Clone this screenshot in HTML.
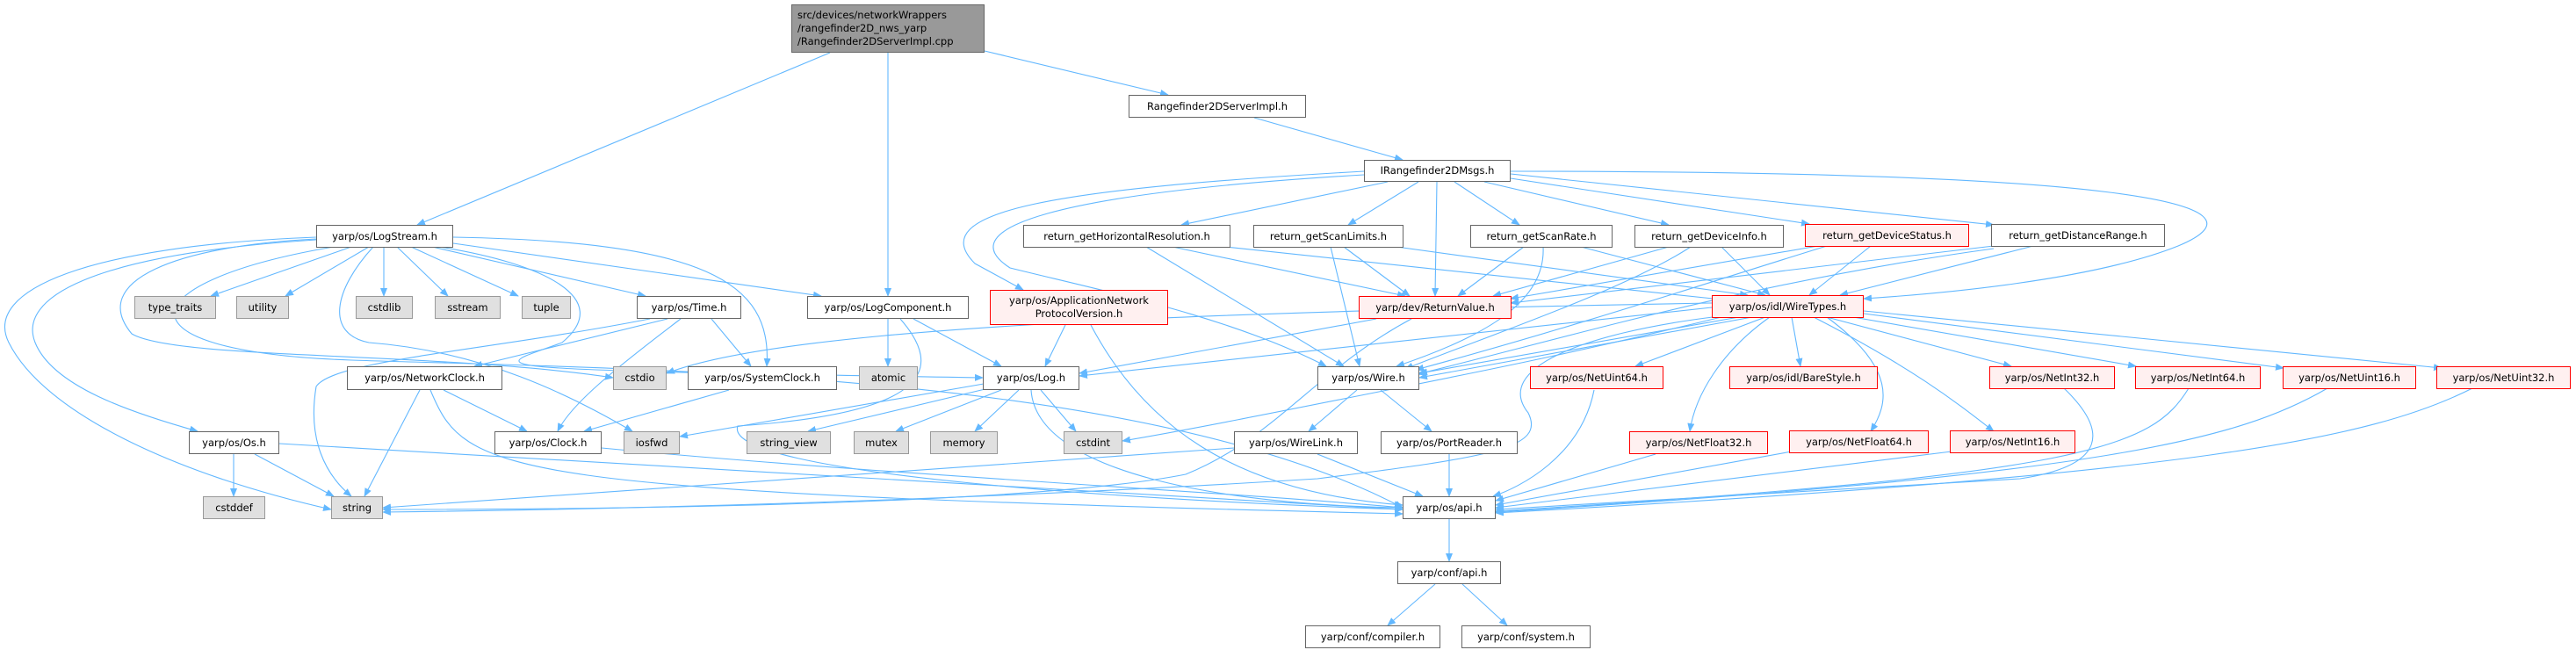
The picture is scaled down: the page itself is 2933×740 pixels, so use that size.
<!DOCTYPE html>
<html><head><meta charset="utf-8"><style>
html,body{margin:0;padding:0;background:#fff;}
body{width:2933px;height:740px;position:relative;overflow:hidden;font-family:"DejaVu Sans","Liberation Sans",sans-serif;}
.n{position:absolute;box-sizing:border-box;border:1px solid #666;background:#fff;font-size:11.5px;color:#000;display:flex;align-items:center;justify-content:center;text-align:center;white-space:nowrap;line-height:15px;}
.g{background:#e0e0e0;border-color:#999;}
.r{background:#fff0f0;border-color:#f00;}
.root{background:#999;border-color:#666;}
svg{position:absolute;left:0;top:0;}
</style></head><body>
<svg width="2933" height="740" viewBox="0 0 2933 740">
<defs><marker id="a" markerWidth="10" markerHeight="8" refX="9" refY="4" orient="auto" markerUnits="userSpaceOnUse"><path d="M0,0 L10,4 L0,8 z" fill="#63b8ff"/></marker></defs>
<g fill="none" stroke="#63b8ff" stroke-width="1.1" marker-end="url(#a)">
<path d="M945,60 L475,256"/>
<path d="M1011,60 L1011,337"/>
<path d="M1121,58 L1330,108"/>
<path d="M1428,134 L1597,182"/>
<path d="M1580,207 L1345,256"/>
<path d="M1615,207 L1535,256"/>
<path d="M1636,207 L1634,337"/>
<path d="M1656,207 L1730,256"/>
<path d="M1690,207 L1900,256"/>
<path d="M1720,203 L2060,255"/>
<path d="M1720,198 L2270,256"/>
<path d="M1720,195 C2400,195 2600,230 2480,280 C2380,320 2200,335 2122,340"/>
<path d="M1553,195 C1200,215 1050,240 1110,300 L1165,330"/>
<path d="M1553,199 C1200,220 1080,260 1150,305 C1250,330 1400,360 1510,417"/>
<path d="M1335,281 L1600,337"/>
<path d="M1305,281 L1530,417"/>
<path d="M1395,281 L1960,341"/>
<path d="M1530,281 L1605,337"/>
<path d="M1515,281 L1548,417"/>
<path d="M1590,281 L1990,336"/>
<path d="M1735,281 L1660,337"/>
<path d="M1757,281 C1760,340 1700,380 1590,417"/>
<path d="M1800,281 L2010,336"/>
<path d="M1900,281 L1700,337"/>
<path d="M1925,281 C1850,330 1700,380 1600,420"/>
<path d="M1960,281 L2015,336"/>
<path d="M2070,280 L1720,340"/>
<path d="M2130,280 L2060,336"/>
<path d="M2080,280 C1950,320 1800,370 1612,421"/>
<path d="M2270,280 L1720,345"/>
<path d="M2315,280 L2095,336"/>
<path d="M2270,283 C2000,320 1800,380 1614,426"/>
<path d="M1213,370 L1190,417"/>
<path d="M1242,370 C1300,480 1400,560 1597,575"/>
<path d="M1607,363 C1500,420 1450,500 1350,540 C1200,570 800,580 436,580"/>
<path d="M1567,363 L1229,425"/>
<path d="M1949,350 L1229,428"/>
<path d="M1949,345 C1400,355 900,370 759,425"/>
<path d="M1980,361 L1616,425"/>
<path d="M1995,361 L1616,430"/>
<path d="M2010,361 L1862,417"/>
<path d="M2040,361 L2050,417"/>
<path d="M2015,361 C1960,400 1930,450 1924,491"/>
<path d="M2080,361 C2160,420 2150,460 2130,491"/>
<path d="M2065,361 C2180,420 2230,460 2270,491"/>
<path d="M2080,361 L2290,417"/>
<path d="M2110,361 L2432,417"/>
<path d="M2122,357 L2600,419"/>
<path d="M2122,354 L2780,419"/>
<path d="M1960,361 C1800,400 1700,420 1600,440 C1450,470 1350,490 1278,502"/>
<path d="M1950,361 C1800,380 1700,420 1740,470 C1760,510 1700,520 1500,545 C1100,570 700,580 436,583"/>
<path d="M1130,441 L920,491"/>
<path d="M1140,444 L1020,491"/>
<path d="M1160,444 L1110,491"/>
<path d="M1185,444 L1225,491"/>
<path d="M1174,444 C1180,540 1400,575 1597,578"/>
<path d="M1120,437 L774,497"/>
<path d="M1040,363 L1140,417"/>
<path d="M1011,363 L1011,417"/>
<path d="M1025,363 C1075,420 1060,470 840,485 C820,540 1300,570 1597,580"/>
<path d="M400,281 L240,337"/>
<path d="M420,281 L325,337"/>
<path d="M437,281 L437,337"/>
<path d="M452,281 L510,337"/>
<path d="M468,281 L590,337"/>
<path d="M492,281 L735,337"/>
<path d="M516,277 L935,337"/>
<path d="M516,270 C800,275 880,320 873,417"/>
<path d="M500,281 C620,300 700,340 640,390 C560,420 500,420 1119,430"/>
<path d="M360,272 C200,280 100,320 150,380 C200,410 500,400 698,430"/>
<path d="M425,281 C380,330 370,380 420,390 C550,400 650,450 720,491"/>
<path d="M360,270 C100,280 -20,330 10,390 C50,470 200,540 377,580"/>
<path d="M360,273 C100,290 20,340 40,390 C60,440 150,470 225,491"/>
<path d="M380,281 C150,320 120,400 400,410 C700,420 1300,420 1597,578"/>
<path d="M760,363 L540,417"/>
<path d="M810,363 L855,417"/>
<path d="M775,363 C700,420 650,460 635,491"/>
<path d="M740,363 C550,400 380,410 360,440 C350,500 370,540 400,565"/>
<path d="M505,444 L600,491"/>
<path d="M478,444 L415,565"/>
<path d="M490,444 C530,540 560,560 1597,585"/>
<path d="M830,444 L665,491"/>
<path d="M685,510 C1000,540 1400,560 1597,578"/>
<path d="M266,517 L266,565"/>
<path d="M290,517 L380,565"/>
<path d="M318,505 L1597,580"/>
<path d="M1545,444 L1490,491"/>
<path d="M1572,444 L1630,491"/>
<path d="M1500,517 L1620,565"/>
<path d="M1405,510 L436,578"/>
<path d="M1650,517 L1650,565"/>
<path d="M1815,444 C1800,520 1730,555 1700,565"/>
<path d="M1885,517 L1703,570"/>
<path d="M2040,514 L1703,575"/>
<path d="M2222,514 L1703,578"/>
<path d="M2350,442 C2400,490 2400,530 2300,545 L1703,580"/>
<path d="M2492,442 C2450,510 2380,540 1703,582"/>
<path d="M2650,442 C2550,500 2400,540 1703,583"/>
<path d="M2815,442 C2700,500 2500,540 1703,584"/>
<path d="M1650,591 L1650,639"/>
<path d="M1634,665 L1580,712"/>
<path d="M1665,665 L1716,712"/>
</g>
</svg>
<div class="n root" style="left:901px;top:5px;width:220px;height:55px;text-align:left;justify-content:flex-start;padding-left:6px">src/devices/networkWrappers<br>/rangefinder2D_nws_yarp<br>/Rangefinder2DServerImpl.cpp</div>
<div class="n" style="left:360px;top:256px;width:156px;height:26px">yarp/os/LogStream.h</div>
<div class="n g" style="left:153px;top:337px;width:93px;height:26px">type_traits</div>
<div class="n g" style="left:269px;top:337px;width:60px;height:26px">utility</div>
<div class="n g" style="left:405px;top:337px;width:65px;height:26px">cstdlib</div>
<div class="n g" style="left:495px;top:337px;width:75px;height:26px">sstream</div>
<div class="n g" style="left:594px;top:337px;width:56px;height:26px">tuple</div>
<div class="n" style="left:725px;top:337px;width:119px;height:26px">yarp/os/Time.h</div>
<div class="n" style="left:919px;top:337px;width:184px;height:26px">yarp/os/LogComponent.h</div>
<div class="n" style="left:395px;top:417px;width:177px;height:27px">yarp/os/NetworkClock.h</div>
<div class="n g" style="left:698px;top:417px;width:61px;height:27px">cstdio</div>
<div class="n" style="left:783px;top:417px;width:170px;height:27px">yarp/os/SystemClock.h</div>
<div class="n g" style="left:978px;top:417px;width:67px;height:27px">atomic</div>
<div class="n" style="left:215px;top:491px;width:103px;height:26px">yarp/os/Os.h</div>
<div class="n" style="left:563px;top:491px;width:122px;height:26px">yarp/os/Clock.h</div>
<div class="n g" style="left:710px;top:491px;width:64px;height:26px">iosfwd</div>
<div class="n g" style="left:850px;top:491px;width:96px;height:26px">string_view</div>
<div class="n g" style="left:972px;top:491px;width:63px;height:26px">mutex</div>
<div class="n g" style="left:1059px;top:491px;width:77px;height:26px">memory</div>
<div class="n g" style="left:231px;top:565px;width:71px;height:26px">cstddef</div>
<div class="n g" style="left:377px;top:565px;width:59px;height:26px">string</div>
<div class="n" style="left:1285px;top:108px;width:202px;height:26px">Rangefinder2DServerImpl.h</div>
<div class="n" style="left:1553px;top:182px;width:167px;height:25px">IRangefinder2DMsgs.h</div>
<div class="n" style="left:1165px;top:256px;width:236px;height:26px">return_getHorizontalResolution.h</div>
<div class="n" style="left:1427px;top:256px;width:171px;height:26px">return_getScanLimits.h</div>
<div class="n" style="left:1674px;top:256px;width:162px;height:26px">return_getScanRate.h</div>
<div class="n" style="left:1861px;top:256px;width:170px;height:26px">return_getDeviceInfo.h</div>
<div class="n r" style="left:2055px;top:255px;width:187px;height:26px">return_getDeviceStatus.h</div>
<div class="n" style="left:2267px;top:255px;width:198px;height:26px">return_getDistanceRange.h</div>
<div class="n r" style="left:1127px;top:330px;width:203px;height:40px">yarp/os/ApplicationNetwork<br>ProtocolVersion.h</div>
<div class="n r" style="left:1547px;top:337px;width:174px;height:26px">yarp/dev/ReturnValue.h</div>
<div class="n r" style="left:1949px;top:336px;width:173px;height:26px">yarp/os/idl/WireTypes.h</div>
<div class="n" style="left:1119px;top:417px;width:110px;height:27px">yarp/os/Log.h</div>
<div class="n" style="left:1500px;top:417px;width:116px;height:27px">yarp/os/Wire.h</div>
<div class="n r" style="left:1742px;top:417px;width:152px;height:26px">yarp/os/NetUint64.h</div>
<div class="n r" style="left:1969px;top:417px;width:169px;height:26px">yarp/os/idl/BareStyle.h</div>
<div class="n r" style="left:2265px;top:417px;width:143px;height:26px">yarp/os/NetInt32.h</div>
<div class="n r" style="left:2431px;top:417px;width:143px;height:26px">yarp/os/NetInt64.h</div>
<div class="n r" style="left:2599px;top:417px;width:152px;height:26px">yarp/os/NetUint16.h</div>
<div class="n r" style="left:2774px;top:417px;width:153px;height:26px">yarp/os/NetUint32.h</div>
<div class="n g" style="left:1211px;top:491px;width:67px;height:26px">cstdint</div>
<div class="n" style="left:1405px;top:491px;width:141px;height:26px">yarp/os/WireLink.h</div>
<div class="n" style="left:1572px;top:491px;width:156px;height:26px">yarp/os/PortReader.h</div>
<div class="n r" style="left:1855px;top:491px;width:158px;height:26px">yarp/os/NetFloat32.h</div>
<div class="n r" style="left:2037px;top:490px;width:159px;height:26px">yarp/os/NetFloat64.h</div>
<div class="n r" style="left:2220px;top:490px;width:143px;height:26px">yarp/os/NetInt16.h</div>
<div class="n" style="left:1597px;top:565px;width:106px;height:26px">yarp/os/api.h</div>
<div class="n" style="left:1591px;top:639px;width:118px;height:26px">yarp/conf/api.h</div>
<div class="n" style="left:1486px;top:712px;width:154px;height:26px">yarp/conf/compiler.h</div>
<div class="n" style="left:1664px;top:712px;width:147px;height:26px">yarp/conf/system.h</div>
</body></html>
